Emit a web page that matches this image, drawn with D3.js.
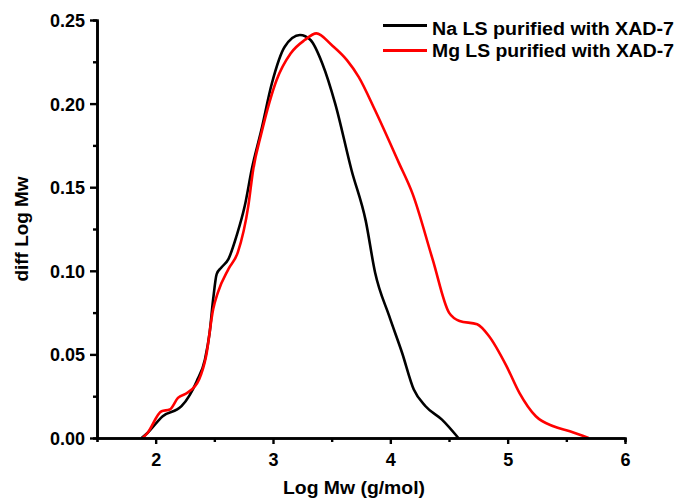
<!DOCTYPE html>
<html>
<head>
<meta charset="utf-8">
<script src="https://cdn.jsdelivr.net/npm/d3@7"></script>
<style>
  html, body { margin: 0; padding: 0; background: #fff; }
  svg text { font-family: "Liberation Sans", Arial, sans-serif; font-weight: bold; fill: #000; }
</style>
</head>
<body>
<svg id="chart" width="681" height="500"></svg>
<script>
// ---- Data ----
const seriesNames = ["Na LS purified with XAD-7", "Mg LS purified with XAD-7"];
const seriesColors = ["#000000", "#ff0000"];

const naLogMw = [1.88, 1.93, 2.06, 2.22, 2.35, 2.42, 2.46, 2.49, 2.52, 2.56, 2.62, 2.69, 2.76, 2.82, 2.90, 2.99, 3.10, 3.23, 3.32, 3.42, 3.53, 3.67, 3.79, 3.87, 3.99, 4.10, 4.20, 4.30, 4.44, 4.58];
const naDiff   = [0.000, 0.003, 0.013, 0.019, 0.034, 0.047, 0.063, 0.083, 0.098, 0.102, 0.107, 0.121, 0.139, 0.161, 0.184, 0.212, 0.234, 0.241, 0.238, 0.224, 0.200, 0.160, 0.130, 0.099, 0.073, 0.051, 0.029, 0.019, 0.011, 0.000];

const mgLogMw = [1.89, 1.93, 2.05, 2.12, 2.19, 2.27, 2.37, 2.43, 2.49, 2.53, 2.62, 2.70, 2.79, 2.83, 2.90, 3.03, 3.15, 3.27, 3.37, 3.50, 3.63, 3.73, 3.87, 4.07, 4.19, 4.36, 4.50, 4.59, 4.74, 4.84, 4.99, 5.10, 5.24, 5.39, 5.53, 5.69];
const mgDiff   = [0.000, 0.003, 0.016, 0.017, 0.024, 0.027, 0.035, 0.049, 0.077, 0.087, 0.101, 0.111, 0.139, 0.160, 0.182, 0.214, 0.230, 0.238, 0.242, 0.235, 0.226, 0.216, 0.196, 0.165, 0.146, 0.107, 0.075, 0.070, 0.068, 0.061, 0.043, 0.027, 0.013, 0.007, 0.004, 0.000];

const xMajorTicks = [2, 3, 4, 5, 6];
const xMinorTicks = [2.5, 3.5, 4.5, 5.5];
const yMajorTicks = [0.00, 0.05, 0.10, 0.15, 0.20, 0.25];
const yMinorTicks = [0.025, 0.075, 0.125, 0.175, 0.225];

const xTitle = "Log Mw (g/mol)";
const yTitle = "diff Log Mw";

// ---- Layout ----
const svg = d3.select("#chart");
const plot = { left: 97, right: 625, top: 20, bottom: 438 };

const x = d3.scaleLinear().domain([1.5, 6]).range([plot.left, plot.right]);
const y = d3.scaleLinear().domain([0, 0.25]).range([plot.bottom, plot.top]);

// Curves
const series = [
  { name: seriesNames[0], color: seriesColors[0], xs: naLogMw, ys: naDiff },
  { name: seriesNames[1], color: seriesColors[1], xs: mgLogMw, ys: mgDiff }
];

const line = d3.line()
  .x(d => x(d[0]))
  .y(d => y(d[1]))
  .curve(d3.curveMonotoneX);

series.forEach(s => {
  svg.append("path")
    .datum(s.xs.map((v, i) => [v, s.ys[i]]))
    .attr("fill", "none")
    .attr("stroke", s.color)
    .attr("stroke-width", 2.6)
    .attr("stroke-linejoin", "round")
    .attr("d", line);
});

// Axes
function styleAxis(g) {
  g.selectAll(".domain").attr("stroke", "#000").attr("stroke-width", 2.6);
  g.selectAll(".tick line").attr("stroke", "#000").attr("stroke-width", 2.4);
  g.selectAll(".tick text").style("font-size", "18px").style("font-family", "'Liberation Sans', Arial, sans-serif").style("font-weight", "bold");
}

// Y axis
const gyMinor = svg.append("g").attr("transform", `translate(${plot.left},0)`)
  .call(d3.axisLeft(y).tickValues(yMinorTicks).tickSize(4).tickFormat(""));
styleAxis(gyMinor);
const gy = svg.append("g").attr("transform", `translate(${plot.left},0)`)
  .call(d3.axisLeft(y).tickValues(yMajorTicks).tickSize(7).tickSizeOuter(0).tickPadding(5).tickFormat(d3.format(".2f")));
styleAxis(gy);
gy.selectAll(".tick text").attr("dy", "0.36em");

// X axis
const gxMinor = svg.append("g").attr("transform", `translate(0,${plot.bottom})`)
  .call(d3.axisBottom(x).tickValues(xMinorTicks).tickSize(4).tickFormat(""));
styleAxis(gxMinor);
const gx = svg.append("g").attr("transform", `translate(0,${plot.bottom})`)
  .call(d3.axisBottom(x).tickValues(xMajorTicks).tickSize(6).tickSizeOuter(0).tickPadding(9).tickFormat(d3.format("d")));
styleAxis(gx);

// Axis titles
svg.append("text")
  .attr("x", 354).attr("y", 494)
  .attr("text-anchor", "middle")
  .attr("textLength", 142).attr("lengthAdjust", "spacingAndGlyphs")
  .style("font-size", "18px")
  .text(xTitle);

svg.append("text")
  .attr("transform", "translate(28,229) rotate(-90)")
  .attr("text-anchor", "middle")
  .attr("textLength", 105).attr("lengthAdjust", "spacingAndGlyphs")
  .style("font-size", "18px")
  .text(yTitle);

// Legend
const legendRows = [
  { lineY: 25.5, textY: 35, name: seriesNames[0], color: seriesColors[0] },
  { lineY: 50.5, textY: 57, name: seriesNames[1], color: seriesColors[1] }
];
legendRows.forEach(r => {
  svg.append("line")
    .attr("x1", 383).attr("x2", 427)
    .attr("y1", r.lineY).attr("y2", r.lineY)
    .attr("stroke", r.color).attr("stroke-width", 3);
  svg.append("text")
    .attr("x", 432).attr("y", r.textY)
    .attr("textLength", 242).attr("lengthAdjust", "spacingAndGlyphs")
    .style("font-size", "17.5px")
    .text(r.name);
});
</script>
</body>
</html>
